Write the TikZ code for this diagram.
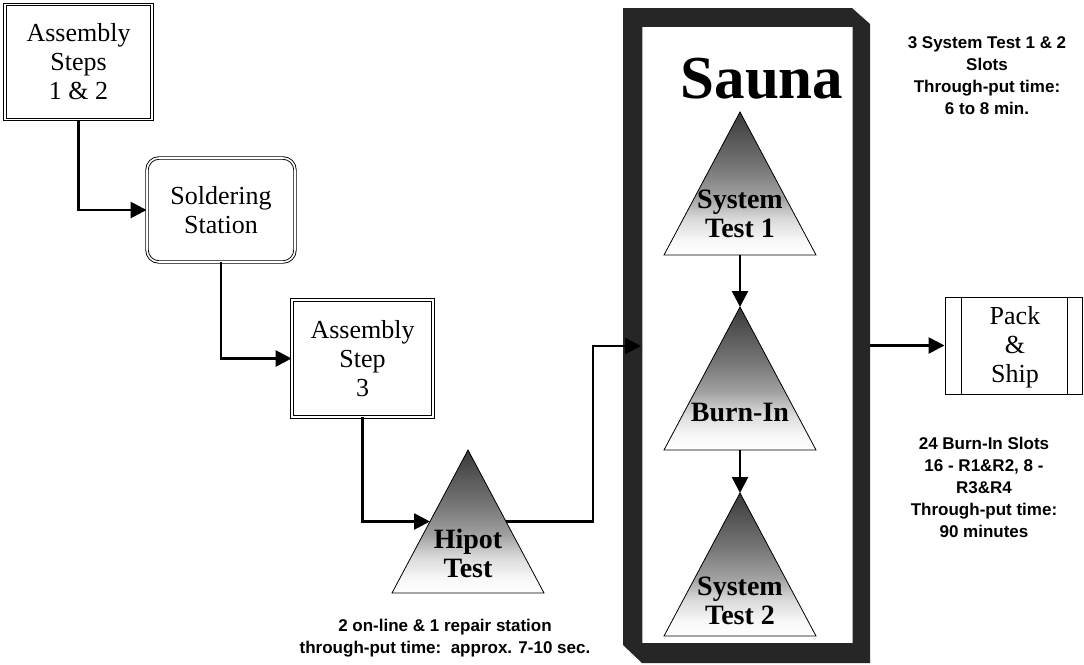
\documentclass[tikz,border=0pt]{standalone}
\usepackage{fontspec}
\setmainfont{Liberation Serif}
\newfontfamily\annotfont{Liberation Sans}
\usetikzlibrary{arrows.meta,calc}
\tikzset{
  conn/.style={line width=2.7pt,-{Triangle[length=16pt,width=16pt]}},
  boxtext/.style={align=center,font=\fontsize{26}{29}\selectfont},
  dblbox/.style={draw,line width=0.9pt,double=white,double distance=1.6pt,inner sep=0pt,boxtext},
  tritext/.style={align=center,font=\bfseries\fontsize{28}{29}\selectfont},
  note/.style={align=center,font=\annotfont\bfseries\fontsize{17}{22}\selectfont},
}
\newcommand\mytri[3]{%
  \begin{scope}
  \clip (#2,#3) -- (#2-76,#3+143) -- (#2+76,#3+143) -- cycle;
  \fill[white] (#2-80,#3-2) rectangle (#2+80,#3+145);
  \foreach \k in {0,...,71} {
    \pgfmathsetmacro\tt{(\k+0.5)/72}
    \pgfmathsetmacro\gg{\tt<0.1 ? 30*\tt : (\tt<0.25 ? 3+80*(\tt-0.1) : (\tt<0.4 ? 15+146.7*(\tt-0.25) : (\tt<0.6 ? 37+80*(\tt-0.4) : 53+62.5*(\tt-0.6))))}
    \fill[black!\gg] (#2-80,#3+143-2*\k-2.6) rectangle (#2+80,#3+143-2*\k);
  }
  \end{scope}
  \draw[line width=0.8pt] (#2,#3) coordinate (#1-apex) -- (#2-76,#3+143) coordinate (#1-bl)
     -- (#2+76,#3+143) coordinate (#1-br) -- cycle;
  \coordinate (#1-base) at (#2,#3+143);}
\begin{document}
\begin{tikzpicture}[x=1pt,y=-1pt]
\useasboundingbox[fill=white] (0,0) rectangle (1084,664);
% boxes
\node[dblbox,minimum width=147pt,minimum height=115pt] (a12) at (78.5,62) {Assembly\\Steps\\1 \& 2};
\node[dblbox,rounded corners=12pt,minimum width=148pt,minimum height=104pt] (sold) at (221,210) {Soldering\\Station};
\node[dblbox,minimum width=141pt,minimum height=117pt] (a3) at (362.5,358.5) {Assembly\\Step\\3};
% sauna frame
\node[minimum width=210pt,minimum height=616pt,inner sep=0pt] (sauna) at (747.5,335) {};
\fill[black!85,even odd rule] (623,8) -- (852,8) -- (870,24) -- (870,663) -- (642,663) -- (623,645) -- cycle
  (sauna.north west) rectangle (sauna.south east);
\node[anchor=base,font=\bfseries\fontsize{61}{61}\selectfont] (saunalabel) at (762,98) {Sauna};
% triangles
\mytri{hip}{468}{450}
\mytri{st1}{740}{112}
\mytri{bi}{740}{307}
\mytri{st2}{740}{493}
\node[tritext] (hiptext) at (468,553) {Hipot\\Test};
\node[tritext] (st1text) at (740,214) {System\\Test 1};
\node[tritext] (bitext) at (740,412) {Burn-In};
\node[tritext] (st2text) at (740,601) {System\\Test 2};
% pack & ship
\node[draw,line width=1pt,minimum width=137pt,minimum height=97pt,inner sep=0pt] (pack) at (1013.5,345.5) {};
\draw[line width=0.8pt] ($(pack.north west)+(17,0)$) -- ($(pack.south west)+(17,0)$);
\draw[line width=0.8pt] ($(pack.north east)+(-15,0)$) -- ($(pack.south east)+(-15,0)$);
\node[boxtext] (packtext) at (1015,347) {Pack\\\&\\Ship};
% connectors
\draw[conn] (a12.south) |- (sold.west);
\draw[conn] (sold.south) |- (a3.west);
\coordinate (hipL) at ($(hip-apex)!0.5!(hip-bl)$);
\coordinate (hipR) at ($(hip-apex)!0.5!(hip-br)$);
\draw[conn] (a3.south) |- (hipL);
\coordinate (sIn) at (641,346);
\draw[conn] (hipR) -- ++(87,0) |- (sIn);
\draw[conn] (st1-base) -- (bi-apex);
\draw[conn] (bi-base) -- (st2-apex);
\coordinate (frameR) at ($(sauna.east)+(17,0)$);
\draw[conn] (frameR |- pack.west) -- (pack.west);
% notes
\node[note] (n1) at (987,75.5) {3 System Test 1 \& 2\\Slots\\Through-put time:\\6 to 8 min.};
\node[note] (n2) at (984,487.5) {24 Burn-In Slots\\16 - R1\&R2, 8 -\\R3\&R4\\Through-put time:\\90 minutes};
\node[note] (n3) at (445,638.5) {2 on-line \& 1 repair station\\through-put time:\ \ approx. 7-10 sec.};
\end{tikzpicture}
\end{document}
